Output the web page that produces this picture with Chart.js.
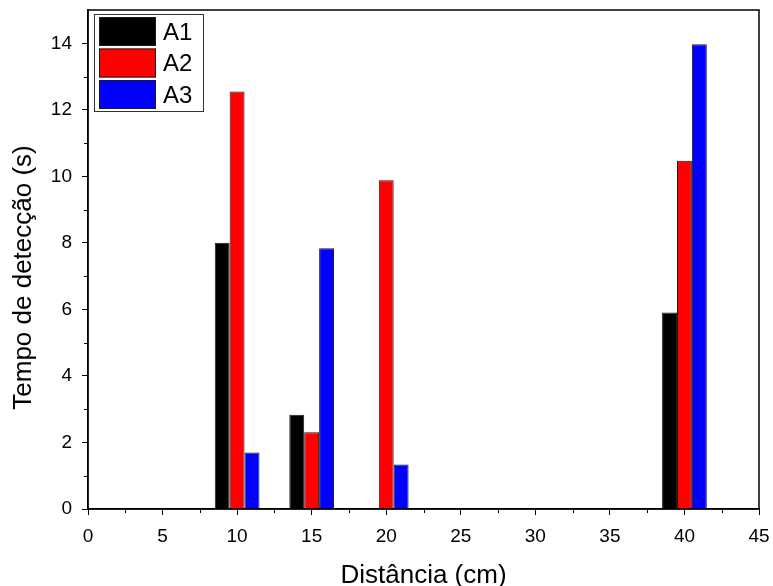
<!DOCTYPE html>
<html>
<head>
<meta charset="utf-8">
<script src="https://cdn.jsdelivr.net/npm/chart.js@4"></script>
<style>
  html, body { margin: 0; padding: 0; background: #fff; }
  #wrap { width: 773px; height: 586px; }
</style>
</head>
<body>
<div id="wrap"><canvas id="grafico"></canvas></div>
<script>
// dados
const distancias = [10, 15, 20, 40];
const seriesNomes = ['A1', 'A2', 'A3'];
const valoresA1 = [8.0, 2.83, 0.03, 5.91];
const valoresA2 = [12.55, 2.31, 9.88, 10.47];
const valoresA3 = [1.70, 7.84, 1.34, 13.97];
const coresSeries = ['#000000', '#ff0000', '#0000ff'];
const xTicks = [0, 5, 10, 15, 20, 25, 30, 35, 40, 45];
const yTicks = [0, 2, 4, 6, 8, 10, 12, 14];
const tituloY = 'Tempo de detecção (s)';

const FONTE = "'Liberation Sans', Arial, sans-serif";

const valores = [valoresA1, valoresA2, valoresA3];
const datasets = seriesNomes.map((nome, i) => ({
    label: nome,
    data: distancias.map((d, j) => ({ x: d, y: valores[i][j] })),
    backgroundColor: coresSeries[i],
    borderColor: '#1a1a1a',
    borderWidth: 1,
    borderSkipped: 'bottom',
    categoryPercentage: 0.6,
    barPercentage: 1.0
}));

// moldura + ticks menores + título do eixo y
const molduraPlugin = {
    id: 'moldura',
    afterDraw(chart) {
        const { ctx, chartArea: a, scales } = chart;
        ctx.save();
        ctx.strokeStyle = '#000';
        ctx.lineWidth = 1.5;
        ctx.strokeRect(a.left, a.top, a.right - a.left, a.bottom - a.top);

        ctx.lineWidth = 1;
        // menores no eixo x
        for (let v = 2.5; v < 45; v += 5) {
            const px = Math.round(scales.x.getPixelForValue(v)) + 0.5;
            ctx.beginPath();
            ctx.moveTo(px, a.bottom);
            ctx.lineTo(px, a.bottom + 4);
            ctx.stroke();
        }
        // menores no eixo y
        for (let v = 1; v < 15; v += 2) {
            const py = Math.round(scales.y.getPixelForValue(v)) + 0.5;
            ctx.beginPath();
            ctx.moveTo(a.left, py);
            ctx.lineTo(a.left - 4, py);
            ctx.stroke();
        }

        // título y (um pouco abaixo do centro, como no original)
        ctx.translate(24, (a.top + a.bottom) / 2 + 18);
        ctx.rotate(-Math.PI / 2);
        ctx.fillStyle = '#000';
        ctx.font = '26px ' + FONTE;
        ctx.textAlign = 'center';
        ctx.textBaseline = 'middle';
        ctx.fillText(tituloY, 0, 0);
        ctx.restore();
    }
};

// legenda desenhada dentro da área do gráfico
const legendaPlugin = {
    id: 'legendaCaixa',
    afterDraw(chart) {
        const { ctx, chartArea: a } = chart;
        const x0 = a.left + 6, y0 = a.top + 4;
        const w = 109, h = 97;
        ctx.save();
        ctx.fillStyle = '#fff';
        ctx.fillRect(x0, y0, w, h);
        ctx.strokeStyle = '#333';
        ctx.lineWidth = 1;
        ctx.strokeRect(x0 + 0.5, y0 + 0.5, w, h);
        chart.data.datasets.forEach((ds, i) => {
            const sy = y0 + 3 + i * 31.5;
            ctx.fillStyle = ds.backgroundColor;
            ctx.fillRect(x0 + 5, sy, 57, 29);
            ctx.strokeStyle = '#1a1a1a';
            ctx.strokeRect(x0 + 5.5, sy + 0.5, 56, 28);
            ctx.fillStyle = '#000';
            ctx.font = '24px ' + FONTE;
            ctx.textBaseline = 'middle';
            ctx.fillText(ds.label, x0 + 69, sy + 16);
        });
        ctx.restore();
    }
};

new Chart(document.getElementById('grafico'), {
    type: 'bar',
    data: { datasets },
    options: {
        responsive: true,
        maintainAspectRatio: false,
        animation: false,
        layout: { padding: { top: 10, right: 14, left: 0, bottom: 0 } },
        plugins: {
            legend: { display: false },
            tooltip: { enabled: false }
        },
        scales: {
            x: {
                type: 'linear',
                min: 0,
                max: 45,
                offset: false,
                afterBuildTicks: s => { s.ticks = xTicks.map(v => ({ value: v })); },
                afterFit: s => { s.height = 77; s.paddingLeft = 0; s.paddingRight = 0; },
                grid: { offset: false, drawOnChartArea: false, drawTicks: true, tickLength: 6, color: '#000', tickWidth: 1 },
                border: { display: true, color: '#000', width: 1.5 },
                ticks: { color: '#000', font: { family: FONTE, size: 19 }, padding: 10, maxRotation: 0 },
                title: { display: true, text: 'Distância (cm)', color: '#000', font: { family: FONTE, size: 26 }, padding: { top: 8, bottom: -5 } }
            },
            y: {
                min: 0,
                max: 15,
                afterBuildTicks: s => { s.ticks = yTicks.map(v => ({ value: v })); },
                afterFit: s => { s.width = 88; s.paddingTop = 0; s.paddingBottom = 0; },
                grid: { drawOnChartArea: false, drawTicks: true, tickLength: 6, color: '#000', tickWidth: 1 },
                border: { display: true, color: '#000', width: 1.5 },
                ticks: { color: '#000', font: { family: FONTE, size: 19 }, padding: 10 },
                title: { display: false }
            }
        }
    },
    plugins: [molduraPlugin, legendaPlugin]
});
</script>
</body>
</html>
